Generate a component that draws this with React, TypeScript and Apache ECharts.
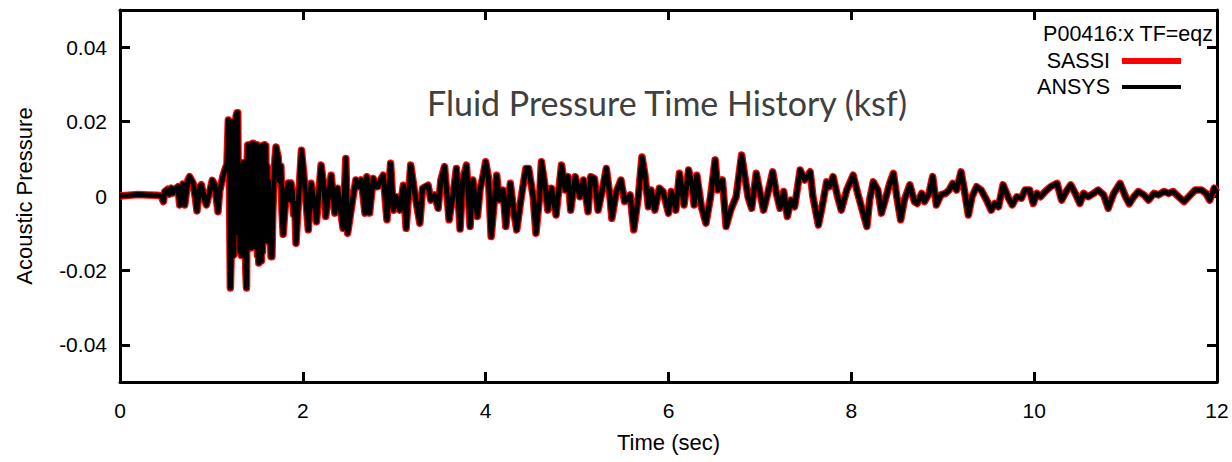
import React, { useEffect, useRef } from "react";
import * as echarts from "echarts";

// [time (sec), acoustic pressure (ksf)], by segment
const onsetPhase: [number, number][] = [
  [0.0, 0], [0.1, 0.0002], [0.2, 0.0004], [0.3, 0.0003], [0.4, 0.0002], [0.45, 0.0001],
  [0.475, -0.0015], [0.49, 0.0012], [0.52, 0.0018], [0.54, 0.0005], [0.562, 0.0021],
  [0.58, 0.0008], [0.598, 0.0017], [0.635, 0.0025], [0.653, -0.0024], [0.689, 0.0032],
  [0.708, -0.0024], [0.744, 0.0043], [0.762, 0.0052], [0.799, 0.0035], [0.824, -0.0005],
  [0.842, -0.004], [0.872, 0.0025], [0.89, 0.003], [0.919, -0.0005], [0.945, -0.0024],
  [0.981, 0.0012], [1.01, 0.0042], [1.036, 0.003], [1.072, -0.0042], [1.09, 0.0012],
  [1.127, 0.0054], [1.153, 0.0075], [1.17, 0.0085],
];

const strongShaking: [number, number][] = [
  [1.185, 0.0204], [1.192, 0.0195], [1.2, -0.005], [1.207, -0.0247], [1.214, -0.018],
  [1.222, 0.0195], [1.23, 0.02], [1.238, -0.016], [1.246, -0.0158], [1.254, 0.01],
  [1.262, -0.008], [1.27, 0.0215], [1.28, 0.0224], [1.288, 0.0224], [1.296, -0.01],
  [1.304, 0.006], [1.312, -0.015], [1.32, 0.008], [1.328, -0.016], [1.336, 0.006],
  [1.344, -0.012], [1.352, 0.009], [1.36, -0.014], [1.368, 0.005], [1.376, -0.02],
  [1.384, -0.0247], [1.392, 0.01], [1.398, 0.0137], [1.405, -0.01], [1.412, 0.0135],
  [1.42, -0.012], [1.427, 0.0138], [1.434, -0.014], [1.441, 0.014], [1.448, -0.01],
  [1.455, 0.0142], [1.462, -0.0136], [1.469, 0.0137], [1.476, -0.008], [1.483, 0.0137],
  [1.49, -0.0135], [1.497, 0.0138], [1.504, -0.016], [1.511, 0.012], [1.518, -0.018],
  [1.525, 0.0125], [1.532, -0.017], [1.539, 0.013], [1.546, -0.0175], [1.553, 0.0135],
  [1.56, -0.015], [1.567, 0.0135], [1.574, -0.01], [1.581, 0.0138], [1.588, -0.008],
  [1.595, 0.0135], [1.602, -0.012], [1.609, 0.008], [1.616, -0.012], [1.624, 0.004],
  [1.632, -0.0125], [1.642, -0.006], [1.652, -0.0163], [1.662, -0.0163], [1.672, -0.004],
  [1.682, 0.002], [1.695, 0.01], [1.707, 0.0132], [1.72, 0.0115], [1.73, 0.0105],
  [1.745, 0.004], [1.76, 0.008], [1.772, -0.004], [1.785, -0.0103], [1.797, -0.006],
  [1.81, -0.002], [1.825, 0.002], [1.84, 0.0035], [1.855, -0.001], [1.87, 0.0035],
  [1.885, 0.001], [1.9, -0.005], [1.912, -0.002], [1.925, -0.0127],
];

const midRecord: [number, number][] = [
  [1.985, 0.0123], [2.01, 0.006], [2.06, -0.0091], [2.09, 0.0034], [2.12, -0.001],
  [2.15, -0.0069], [2.2, 0.0083], [2.235, 0.0016], [2.25, -0.0055], [2.31, 0.0056],
  [2.35, -0.0046], [2.38, 0.0021], [2.44, -0.0087], [2.47, 0.0101], [2.49, -0.01],
  [2.55, -0.0002], [2.58, 0.0043], [2.61, 0.0025], [2.64, 0.0043], [2.68, -0.0046],
  [2.7, 0.0052], [2.73, -0.0046], [2.77, 0.0047], [2.8, 0.0025], [2.82, 0.0025],
  [2.85, 0.0043], [2.88, 0.0056], [2.92, -0.0064], [2.96, 0.0088], [2.99, -0.0038],
  [3.02, -0.0002], [3.06, -0.0038], [3.1, 0.0029], [3.13, -0.0087], [3.18, 0.0083],
  [3.23, -0.0002], [3.28, -0.0073], [3.31, 0.0021], [3.34, 0.0025], [3.37, 0.0029],
  [3.4, -0.0011], [3.44, 0.0003], [3.48, -0.0033], [3.51, 0.0043], [3.55, 0.0079],
  [3.6, -0.0064], [3.64, -0.0002], [3.68, 0.0074], [3.72, -0.0089], [3.75, 0.0043],
  [3.79, 0.0083], [3.83, -0.0082], [3.86, 0.0043], [3.91, -0.0055], [3.94, 0.002],
  [3.97, 0.0052], [4.0, 0.0092], [4.03, 0.005], [4.06, -0.0109], [4.12, 0.0056],
  [4.15, -0.0011], [4.19, 0.0016], [4.22, -0.0082], [4.27, 0.0034], [4.31, -0.0046],
  [4.34, -0.0091], [4.39, -0.0002], [4.44, 0.0074], [4.47, 0.0074], [4.52, -0.0002],
  [4.55, -0.01], [4.59, -0.0002], [4.61, 0.0092], [4.65, 0.0025], [4.68, -0.0038],
  [4.72, 0.0021], [4.77, -0.0051], [4.83, 0.0083], [4.87, 0.0016], [4.9, 0.0052],
  [4.93, -0.0038], [4.98, 0.0052], [5.03, -0.0002], [5.07, 0.0043], [5.12, -0.0042],
  [5.15, 0.0052], [5.19, 0.0047], [5.23, -0.0038], [5.28, 0.0021], [5.32, 0.0074],
  [5.36, -0.0002], [5.38, -0.006], [5.43, 0.0012], [5.48, 0.0043], [5.52, -0.0015],
  [5.58, 0.0003], [5.62, -0.0091], [5.67, -0.0002], [5.71, 0.0105], [5.74, 0.0061],
  [5.78, -0.0029], [5.81, 0.0016], [5.85, -0.0038], [5.9, 0.0021], [5.94, 0.0012],
  [6.0, -0.0046], [6.03, 0.0012],
];

const lateRecord: [number, number][] = [
  [6.05, -0.0002], [6.08, -0.0038], [6.12, 0.0061], [6.17, -0.0024], [6.22, 0.007],
  [6.26, 0.0025], [6.28, -0.0024], [6.31, 0.0056], [6.36, -0.0029], [6.41, -0.0073],
  [6.46, -0.0002], [6.51, 0.0097], [6.54, 0.0016], [6.59, 0.0043], [6.63, -0.0082],
  [6.68, -0.0038], [6.74, -0.0002], [6.8, 0.011], [6.83, 0.0061], [6.87, -0.0002],
  [6.91, -0.0033], [6.96, 0.0061], [7.01, -0.0002], [7.04, -0.0038], [7.09, 0.0012],
  [7.14, 0.0065], [7.18, 0.0007], [7.22, -0.0033], [7.26, 0.0012], [7.3, -0.0055],
  [7.34, -0.0011], [7.38, -0.0029], [7.44, 0.007], [7.49, 0.0043], [7.55, 0.0065],
  [7.58, -0.0002], [7.64, -0.0078], [7.68, -0.0029], [7.73, 0.0038], [7.76, 0.0025],
  [7.8, 0.0052], [7.85, -0.0002], [7.89, -0.0038], [7.95, 0.0016], [8.02, 0.0056],
  [8.07, 0.0007], [8.11, -0.0029], [8.17, -0.0082], [8.2, -0.0011], [8.24, 0.0038],
  [8.29, 0.0016], [8.33, -0.0046], [8.38, -0.0002], [8.42, 0.0034], [8.46, 0.0061],
  [8.5, -0.0006], [8.54, -0.0064], [8.58, -0.0011], [8.64, 0.003], [8.69, -0.0015],
  [8.72, -0.002], [8.77, 0.0007], [8.8, -0.0015], [8.85, 0.0007], [8.89, 0.0052],
  [8.93, -0.0024], [8.98, 0.0003], [9.03, 0.0007], [9.07, 0.0016], [9.11, 0.0034],
  [9.15, 0.0016], [9.2, 0.0065], [9.23, 0.0025], [9.28, -0.0051], [9.32, -0.0002],
  [9.37, 0.0025], [9.42, 0.0016], [9.48, -0.0011], [9.53, -0.0038], [9.57, -0.002],
  [9.61, -0.0029], [9.66, 0.003], [9.72, -0.0006], [9.76, -0.0024], [9.81, -0.0002],
  [9.86, -0.0006], [9.9, 0.0016], [9.95, 0.0016], [9.99, -0.002], [10.03, 0.0007],
  [10.07, -0.0002], [10.12, 0.0012], [10.18, 0.0025], [10.25, 0.0034], [10.3, -0.0011],
  [10.36, 0.0016], [10.4, 0.003], [10.45, 0.0007], [10.5, -0.002], [10.54, 0.0007],
  [10.59, -0.0002], [10.65, 0.0007], [10.7, 0.0016], [10.76, 0.0003], [10.81, -0.0033],
  [10.87, 0.0007], [10.94, 0.0034], [11.0, -0.0002], [11.04, -0.0021], [11.09, -0.0002],
  [11.14, 0.0012], [11.2, 0.0003], [11.25, -0.0011], [11.31, 0.0007], [11.36, 0.0003],
  [11.42, 0.0012], [11.47, 0.0007], [11.52, 0.0012], [11.58, -0.0002], [11.64, -0.0015],
  [11.69, -0.0002], [11.76, 0.0016], [11.83, 0.0016], [11.88, 0.0007], [11.92, -0.0011],
  [11.97, 0.0021], [12.0, 0.001],
];

const sassiSeries: [number, number][] = [...onsetPhase, ...strongShaking, ...midRecord, ...lateRecord];
const ansysSeries: [number, number][] = [...onsetPhase, ...strongShaking, ...midRecord, ...lateRecord];

const yTickValues = [-0.04, -0.02, 0, 0.02, 0.04];
const xRange = { min: 0, max: 12, step: 2 };
const yRange = { min: -0.05, max: 0.05 };

const chartTitle = "Fluid Pressure Time History (ksf)";
const legendHeader = "P00416:x TF=eqz";
const seriesNames = ["SASSI", "ANSYS"];
const xAxisName = "Time (sec)";
const yAxisName = "Acoustic Pressure";

const FONT = "'Liberation Sans', Arial, Helvetica, sans-serif";
const AXIS_W = 3;

function buildOption(): echarts.EChartsOption {
  const axisLine = { show: true, onZero: false, lineStyle: { color: "#000", width: AXIS_W } };
  const axisTick = { show: true, inside: true, length: 10, lineStyle: { color: "#000", width: AXIS_W } };
  const labelStyle = { color: "#000", fontSize: 21, fontFamily: FONT };
  const nameStyle = { color: "#000", fontSize: 22, fontFamily: FONT };
  const yFmt = (v: number) => (Math.abs(v) < 1e-9 ? "0" : v.toFixed(2));
  const legendFont = `21.5px ${FONT}`;

  return {
    animation: false,
    backgroundColor: "#ffffff",
    grid: { left: 120, right: 15, top: 10, bottom: 80, containLabel: false },
    xAxis: [
      {
        type: "value",
        position: "bottom",
        min: xRange.min,
        max: xRange.max,
        interval: xRange.step,
        axisLine,
        axisTick,
        axisLabel: { ...labelStyle, margin: 18 },
        splitLine: { show: false },
        name: xAxisName,
        nameLocation: "middle",
        nameGap: 49,
        nameTextStyle: nameStyle,
      },
      {
        type: "value",
        position: "top",
        min: xRange.min,
        max: xRange.max,
        interval: xRange.step,
        axisLine,
        axisTick,
        axisLabel: { show: false },
        splitLine: { show: false },
      },
    ],
    yAxis: [
      {
        type: "value",
        position: "left",
        min: yRange.min,
        max: yRange.max,
        axisLine,
        axisTick: { ...axisTick, customValues: yTickValues } as any,
        axisLabel: { ...labelStyle, margin: 13, customValues: yTickValues, formatter: yFmt } as any,
        splitLine: { show: false },
        name: yAxisName,
        nameLocation: "middle",
        nameGap: 85,
        nameTextStyle: nameStyle,
      },
      {
        type: "value",
        position: "right",
        min: yRange.min,
        max: yRange.max,
        axisLine,
        axisTick: { ...axisTick, customValues: yTickValues } as any,
        axisLabel: { show: false, customValues: yTickValues } as any,
        splitLine: { show: false },
      },
    ],
    series: [
      {
        name: seriesNames[0],
        type: "line",
        xAxisIndex: 0,
        yAxisIndex: 0,
        data: sassiSeries,
        showSymbol: false,
        symbol: "none",
        lineStyle: { color: "#ff0000", width: 7.5, join: "round" },
        z: 2,
      },
      {
        name: seriesNames[1],
        type: "line",
        xAxisIndex: 0,
        yAxisIndex: 0,
        data: ansysSeries,
        showSymbol: false,
        symbol: "none",
        lineStyle: { color: "#000000", width: 5, join: "round" },
        z: 3,
      },
    ],
    graphic: [
      {
        type: "text",
        x: 667,
        y: 102,
        style: {
          text: chartTitle,
          fill: "#404040",
          font: "34px Lato, 'Open Sans', sans-serif",
          textAlign: "center",
          textVerticalAlign: "middle",
        },
        z: 10,
      },
      {
        type: "text",
        x: 1213,
        y: 34,
        style: { text: legendHeader, fill: "#000", font: legendFont, textAlign: "right", textVerticalAlign: "middle" },
        z: 10,
      },
      {
        type: "text",
        x: 1110,
        y: 61,
        style: { text: seriesNames[0], fill: "#000", font: legendFont, textAlign: "right", textVerticalAlign: "middle" },
        z: 10,
      },
      { type: "rect", shape: { x: 1122, y: 58, width: 59, height: 6 }, style: { fill: "#ff0000" }, z: 10 },
      {
        type: "text",
        x: 1110,
        y: 87,
        style: { text: seriesNames[1], fill: "#000", font: legendFont, textAlign: "right", textVerticalAlign: "middle" },
        z: 10,
      },
      { type: "rect", shape: { x: 1122, y: 85, width: 59, height: 4 }, style: { fill: "#000000" }, z: 10 },
    ],
  };
}

export default function App() {
  const ref = useRef<HTMLDivElement>(null);
  useEffect(() => {
    if (!ref.current) return;
    const chart = echarts.init(ref.current, null, { renderer: "svg" });
    chart.setOption(buildOption());
    return () => chart.dispose();
  }, []);
  return (
    <div
      ref={ref}
      style={{ position: "fixed", left: 0, top: 0, width: 1232, height: 462, background: "#fff" }}
    />
  );
}
